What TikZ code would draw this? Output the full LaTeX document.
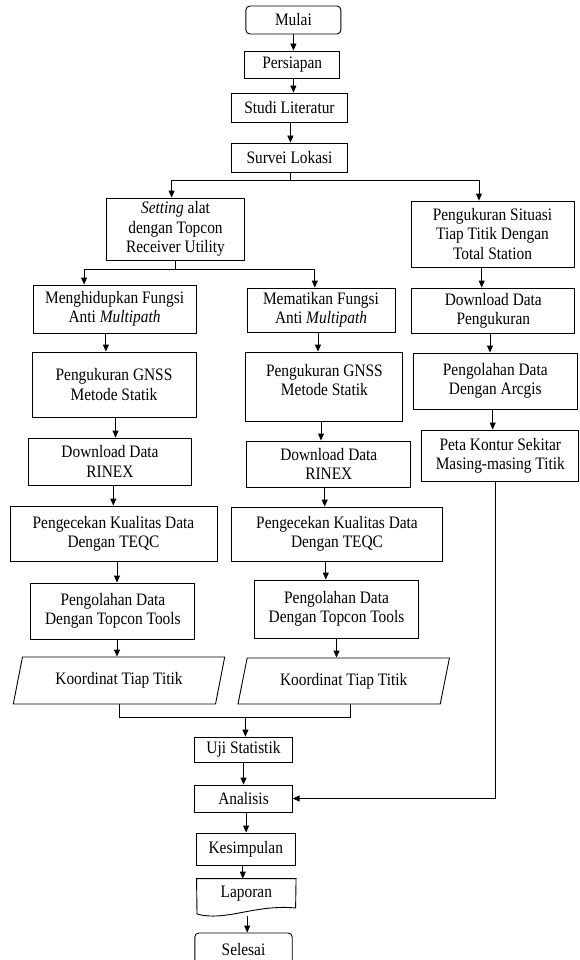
\documentclass[tikz,border=0pt]{standalone}
\usepackage{fontspec}
\setmainfont[FakeStretch=0.88]{Liberation Serif}
\usetikzlibrary{arrows.meta,shapes.geometric}
\begin{document}
\begin{tikzpicture}[x=1pt,y=-1pt,
  box/.style={draw,line width=0.9pt,align=center,inner sep=0pt,font=\fontsize{17.5}{19.3}\selectfont},
  sz/.style 2 args={minimum width=#1,minimum height=#2},
  rbox/.style={box,rounded corners=4pt},
  para/.style={box,trapezium,trapezium left angle=60,trapezium right angle=120,trapezium stretches body},
  arr/.style={line width=0.9pt,-{Triangle[length=7pt,width=6pt]}},
  ln/.style={line width=0.9pt}]
\useasboundingbox (0,0) rectangle (580,960);
\clip (0,0) rectangle (580,960);

\node[rbox,sz={95}{28}] (mulai) at (293.4,20) {Mulai};
\node[box,sz={95}{27}] (pers) at (292.2,64.5) {Persiapan};
\node[box,sz={116}{29}] (studi) at (289.5,107.5) {Studi Literatur};
\node[box,sz={116}{29}] (survei) at (289.5,157.5) {Survei Lokasi};

\node[box,sz={138}{62}] (setting) at (175.5,229) {\textit{Setting} alat\\dengan Topcon\\Receiver Utility};
\node[box,sz={163}{66}] (situasi) at (492.5,234) {Pengukuran Situasi\\Tiap Titik Dengan\\Total Station};

\node[box,sz={163}{48}] (meng) at (114.6,309) {Menghidupkan Fungsi\\Anti \textit{Multipath}};
\node[box,sz={148}{44}] (mema) at (321,310) {Mematikan Fungsi\\Anti \textit{Multipath}};
\node[box,sz={163}{45}] (dlp) at (493.3,310.5) {Download Data\\Pengukuran};

\node[box,sz={164}{65}] (gnssL) at (114,384.5) {Pengukuran GNSS\\Metode Statik};
\node[box,sz={157}{69}] (gnssM) at (324.4,386.5) {Pengukuran GNSS\\Metode Statik\\[-6pt]\mbox{}};
\node[box,sz={164}{56}] (arcgis) at (495.3,381) {Pengolahan Data\\Dengan Arcgis};

\node[box,sz={163}{47}] (rinexL) at (110,461.5) {Download Data\\RINEX};
\node[box,sz={164}{46}] (rinexM) at (328.8,464) {Download Data\\RINEX};
\node[box,sz={157}{51}] (peta) at (500.3,455.5) {Peta Kontur Sekitar\\Masing-masing Titik};

\node[box,sz={207}{55}] (teqcL) at (113.5,533.5) {Pengecekan Kualitas Data\\Dengan TEQC};
\node[box,sz={211}{54}] (teqcM) at (337,534) {Pengecekan Kualitas Data\\Dengan TEQC};

\node[box,sz={164}{56}] (topL) at (112.9,611) {Pengolahan Data\\Dengan Topcon Tools};
\node[box,sz={164}{58}] (topM) at (336.5,609) {Pengolahan Data\\Dengan Topcon Tools};

\node[para,sz={211.4}{47}] (paraL) at (119,680.5) {Koordinat Tiap Titik};
\node[para,sz={211.4}{46}] (paraM) at (343.7,681) {Koordinat Tiap Titik};

\node[box,sz={97.4}{25}] (uji) at (243.5,749.5) {Uji Statistik};
\node[box,sz={97.4}{27}] (ana) at (243.5,798.5) {Analisis};
\node[box,sz={99.6}{32}] (kes) at (245.8,849) {Kesimpulan};
\node[box,draw=none,sz={98.6}{30}] (lap) at (246.3,894) {Laporan};
\draw[ln] (lap.north west) -- (lap.north east) -- (295.6,908)
  .. controls (255,904) and (225,922) .. (197,914) -- cycle;
\coordinate (lapb) at (247.2,916);
\node[rbox,sz={97.4}{34}] (sel) at (243.5,950) {Selesai};

% main spine
\draw[arr] (mulai.south -| 293.4,0) -- (pers.north -| 293.4,0);
\draw[arr] (pers.south -| 293.4,0) -- (studi.north -| 293.4,0);
\draw[arr] (studi.south -| 290.4,0) -- (survei.north -| 290.4,0);
\coordinate (j1) at (290,180);
\draw[ln] (survei.south -| 290,0) -- (j1);
\draw[arr] (j1) -| (setting.north -| 171.6,0);
\draw[arr] (j1) -| (situasi.north -| 479,0);

\coordinate (j2) at (175,269);
\draw[ln] (setting.south -| 175,0) -- (j2);
\draw[arr] (j2) -| (meng.north -| 84.1,0);
\draw[arr] (j2) -| (mema.north -| 314.8,0);

% right column
\draw[arr] (situasi.south -| 481.7,0) -- (dlp.north -| 481.7,0);
\draw[arr] (dlp.south -| 490,0) -- (arcgis.north -| 490,0);
\draw[arr] (arcgis.south -| 492.7,0) -- (peta.north -| 492.7,0);
\draw[arr] (peta.south -| 495.7,0) |- (ana.east);

% left column
\draw[arr] (meng.south -| 105.9,0) -- (gnssL.north -| 105.9,0);
\draw[arr] (gnssL.south -| 115.5,0) -- (rinexL.north -| 115.5,0);
\draw[arr] (rinexL.south -| 113.3,0) -- (teqcL.north -| 113.3,0);
\draw[arr] (teqcL.south -| 117,0) -- (topL.north -| 117,0);
\draw[arr] (topL.south -| 117,0) -- (paraL.north -| 117,0);

% middle column
\draw[arr] (mema.south -| 318,0) -- (gnssM.north -| 318,0);
\draw[arr] (gnssM.south -| 321,0) -- (rinexM.north -| 321,0);
\draw[arr] (rinexM.south -| 324.7,0) -- (teqcM.north -| 324.7,0);
\draw[arr] (teqcM.south -| 325.8,0) -- (topM.north -| 325.8,0);
\draw[arr] (topM.south -| 336.5,0) -- (paraM.north -| 336.5,0);

% merge
\coordinate (m1) at (119.2,717);
\coordinate (m2) at (350.6,717);
\coordinate (m3) at (245.4,717);
\draw[ln] (paraL.south -| 119.2,0) -- (m1) -- (m2) -- (paraM.south -| 350.6,0);
\draw[arr] (m3) -- (uji.north -| 245.4,0);
\draw[arr] (uji.south -| 243.5,0) -- (ana.north -| 243.5,0);
\draw[arr] (ana.south -| 246.1,0) -- (kes.north -| 246.1,0);
\draw[arr] (kes.south -| 242.8,0) -- (lap.north -| 242.8,0);
\draw[arr] (lapb) -- (sel.north -| 247.2,0);
\end{tikzpicture}
\end{document}
